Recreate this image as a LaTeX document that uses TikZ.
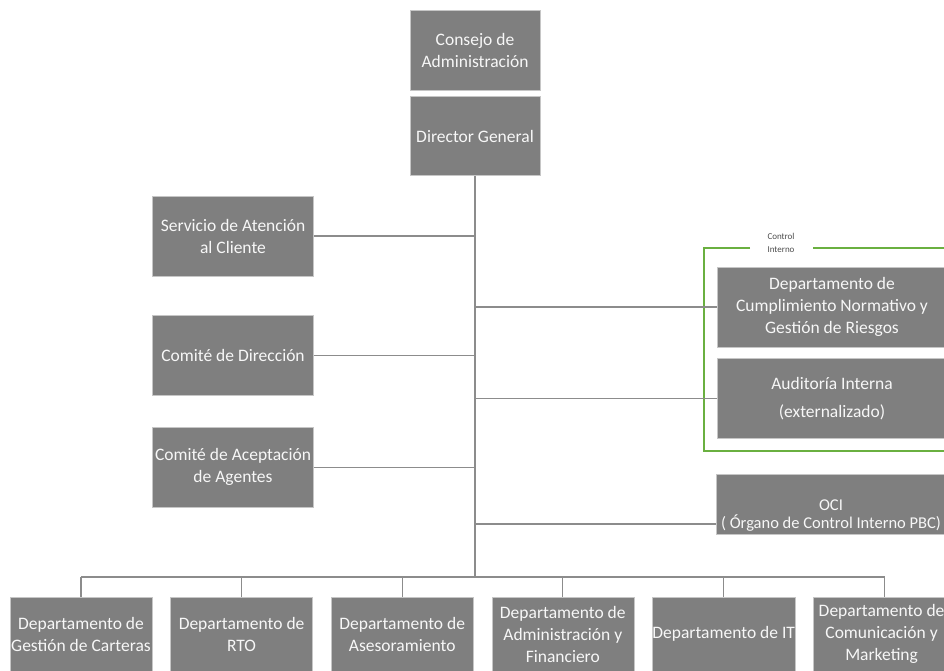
\documentclass[tikz,border=0pt]{standalone}
\usepackage{fontspec}
\setmainfont{Carlito}
\usetikzlibrary{positioning}
\definecolor{boxgray}{RGB}{127,127,127}
\definecolor{wiregray}{RGB}{140,140,140}
\definecolor{cigreen}{RGB}{106,176,64}

\begin{document}
\begin{tikzpicture}[x=1pt, y=-1pt, node distance=6pt,
    org/.style = {draw=gray!45, line width=0.6pt, fill=boxgray, text=white!94!gray, align=center, inner xsep=0pt, font=\fontsize{17.5}{22}\selectfont},
    sidebox/.style = {org, minimum width=161, minimum height=80},
    rightbox/.style = {org, minimum width=230, minimum height=80},
    dept/.style = {org, minimum width=142, minimum height=74},
    wire/.style = {draw=wiregray, line width=1.2pt}]
    \useasboundingbox (0,0) rectangle (944,671);
    \clip (0,0) rectangle (944,671);

    \node[org, minimum width=130, minimum height=80]                     (consejo)    at (475,50)  {Consejo de\\Administración};
    \node[org, minimum width=130, minimum height=79, below=of consejo]   (director)                {Director General};

    \node[sidebox]                         (servicio)   at (233,236) {Servicio de Atención\\al Cliente};
    \node[sidebox, below=39pt of servicio]  (direccion)               {Comité de Dirección};
    \node[sidebox, below=31pt of direccion] (aceptacion)              {Comité de Aceptación\\de Agentes};

    \node[rightbox]                            (cumplimiento) at (832,307) {Departamento de\\Cumplimiento Normativo y\\Gestión de Riesgos};
    \node[rightbox, below=11pt of cumplimiento] (auditoria)                 {Auditoría Interna\\[6pt](externalizado)};
    \node[rightbox, minimum height=53, font=\fontsize{16.5}{18}\selectfont] (oci) at (831,504.5) {\rule{0pt}{33pt}OCI\\( Órgano de Control Interno PBC)};

    % control interno
    \node[font=\fontsize{9}{13}\selectfont, text=black!70, align=center, inner sep=0pt] (ci) at (781,243) {Control\\Interno};
    \draw[cigreen, line width=1.2pt] (750,248) -- (704,248) -- (704,451) -- (944,451);
    \draw[cigreen, line width=1.2pt] (813,248) -- (944,248);

    \node[dept]                      (gestion)   at (81,634) {Departamento de\\Gestión de Carteras};
    \node[dept, right=18pt of gestion] (rto)                 {Departamento de\\RTO};
    \node[dept, right=18pt of rto]     (asesor)              {Departamento de\\Asesoramiento};
    \node[dept, right=18pt of asesor]  (admin)               {Departamento de\\Administración y\\Financiero};
    \node[dept, right=18pt of admin]   (it)                  {Departamento de IT};
    \node[dept, minimum width=136, right=18pt of it] (marketing) {Departamento de\\Comunicación y\\Marketing};

    \coordinate (bus) at (director.south |- 0,577);
    \coordinate (ocilink) at ([yshift=11pt]oci.south west);
    \draw[wire] (director) -- (bus);
    \foreach \n in {servicio,direccion,aceptacion}
        \draw[wire] (\n.east) -- (\n.east -| bus);
    \foreach \n in {cumplimiento,auditoria,ocilink}
        \draw[wire] (\n.west) -- (\n.west -| bus);
    \draw[wire] (gestion.north |- bus) -- ([xshift=3pt]marketing.north |- bus);
    \foreach \n in {gestion,rto,asesor,admin,it}
        \draw[wire] (\n.north |- bus) -- (\n.north);
    \draw[wire] ([xshift=3pt]marketing.north |- bus) -- ([xshift=3pt]marketing.north);
\end{tikzpicture}
\end{document}
